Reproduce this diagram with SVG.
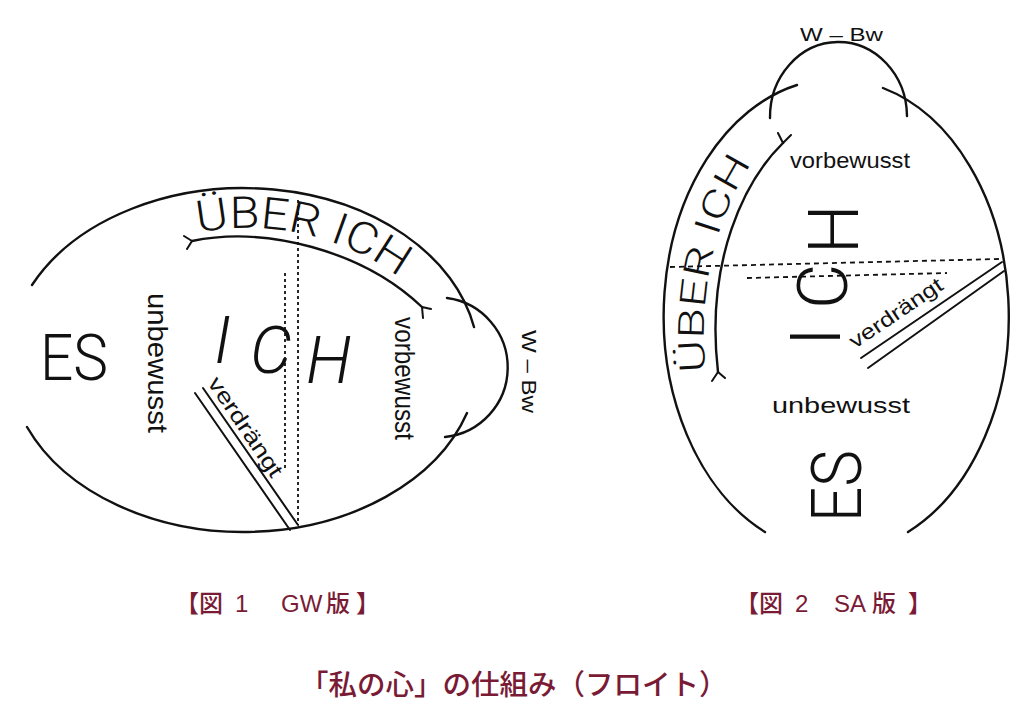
<svg xmlns="http://www.w3.org/2000/svg" width="1029" height="718" viewBox="0 0 1029 718">
<style>
.ln{fill:none;stroke:#111;stroke-width:2.4;stroke-linecap:round}
.thin{fill:none;stroke:#111;stroke-width:2;stroke-linecap:round}
.dot{fill:none;stroke:#111;stroke-width:1.8;stroke-dasharray:3 3}
.dash{fill:none;stroke:#111;stroke-width:1.8;stroke-dasharray:5 4}
.big{font-family:Roboto,"Liberation Sans",sans-serif;font-weight:300;fill:#111}
.sm{font-family:"Liberation Sans",Arial,sans-serif;fill:#111}
.cap{font-family:"Liberation Sans","Noto Sans CJK JP",sans-serif;font-weight:500;fill:#7a1b36}
</style>
<defs>
<path id="p1" d="M198,233 C270,217 355,238 412,288"/>
<path id="p2" d="M706,372 C694,262 735,175 772,138"/>
</defs>
<rect width="1029" height="718" fill="#fff"/>

<g id="fig1">
  <g id="fig1-outline">
    <path class="ln" d="M32,285 A235,172 0 0 1 474,327"/>
    <path class="ln" d="M467,413 A235,172 0 0 1 27,427"/>
  </g>
  <g id="fig1-wbw-bulb">
    <path class="ln" d="M447,298 A70,70 0 0 1 445,437"/>
  </g>
  <g id="fig1-ueberich">
    <path class="ln" d="M192,241 C265,226 362,250 422,307"/>
    <path class="thin" d="M192,241 L184,236 M192,241 L187,249 M422,307 L431,309 M422,307 L423,318"/>
    <text class="big" font-size="44"><textPath href="#p1" textLength="212" lengthAdjust="spacingAndGlyphs">ÜBER ICH</textPath></text>
  </g>
  <g id="fig1-lines">
    <path class="dot" d="M298,200 V525"/>
    <path class="dot" d="M285,273 V470"/>
    <path class="thin" d="M195,393 L290,530 M203,388 L298,525"/>
  </g>
  <g id="fig1-es"><text class="big" x="40" y="380" font-size="64" textLength="68" lengthAdjust="spacingAndGlyphs">ES</text></g>
  <g id="fig1-unbewusst"><text class="sm" transform="translate(148,293) rotate(90)" font-size="28" textLength="140" lengthAdjust="spacingAndGlyphs">unbewusst</text></g>
  <g id="fig1-ich"><text class="big" font-size="66" font-style="italic" x="214 250 306" y="363 373 383">ICH</text></g>
  <g id="fig1-verdraengt"><text class="sm" transform="translate(207,383) rotate(56)" font-size="22" textLength="116" lengthAdjust="spacingAndGlyphs">verdrängt</text></g>
  <g id="fig1-vorbewusst"><text class="sm" transform="translate(395,317) rotate(90)" font-size="28" textLength="123" lengthAdjust="spacingAndGlyphs">vorbewusst</text></g>
  <g id="fig1-wbw"><text class="sm" transform="translate(522,330) rotate(90)" font-size="20" textLength="83" lengthAdjust="spacingAndGlyphs">W – Bw</text></g>
</g>

<g id="fig2">
  <g id="fig2-outline">
    <path class="ln" d="M797,85 A172,237 0 0 0 765,532"/>
    <path class="ln" d="M883,88 A172,237 0 0 1 908,532"/>
  </g>
  <g id="fig2-wbw-bulb">
    <path class="ln" d="M770,118 A68.5,75 0 0 1 907,116"/>
  </g>
  <g id="fig2-ueberich">
    <path class="ln" d="M783,143 C745,180 705,260 718,372"/>
    <path class="thin" d="M783,143 L778,133 M783,143 L791,135 M718,372 L712,381 M718,372 L725,378"/>
    <text class="big" font-size="36"><textPath href="#p2" textLength="218" lengthAdjust="spacingAndGlyphs">ÜBER ICH</textPath></text>
  </g>
  <g id="fig2-lines">
    <path class="dash" d="M670,267 L999,259"/>
    <path class="dash" d="M747,278 L947,273"/>
    <path class="thin" d="M861,358 L1002,262 M868,368 L1004,271"/>
  </g>
  <g id="fig2-wbw"><text class="sm" x="800" y="41" font-size="18" textLength="83" lengthAdjust="spacingAndGlyphs">W – Bw</text></g>
  <g id="fig2-vorbewusst"><text class="sm" x="790" y="168" font-size="22" textLength="120" lengthAdjust="spacingAndGlyphs">vorbewusst</text></g>
  <g id="fig2-ich"><text class="big" transform="translate(858,342) rotate(-90)" font-size="70" x="-4 33 88" y="-18 -11 0">ICH</text></g>
  <g id="fig2-verdraengt"><text class="sm" transform="translate(855,349) rotate(-34)" font-size="21" textLength="108" lengthAdjust="spacingAndGlyphs">verdrängt</text></g>
  <g id="fig2-unbewusst"><text class="sm" x="772" y="413" font-size="22" textLength="138" lengthAdjust="spacingAndGlyphs">unbewusst</text></g>
  <g id="fig2-es"><text class="big" transform="translate(861,522) rotate(-90)" font-size="70" textLength="72" lengthAdjust="spacingAndGlyphs">ES</text></g>
</g>

<g id="captions">
  <text class="cap" y="612" font-size="24"><tspan x="175">【図</tspan><tspan x="235">1</tspan><tspan x="281">GW</tspan><tspan x="326">版</tspan><tspan x="356">】</tspan></text>
  <text class="cap" y="612" font-size="24"><tspan x="735">【図</tspan><tspan x="795">2</tspan><tspan x="834">SA</tspan><tspan x="872">版</tspan><tspan x="908">】</tspan></text>
  <text class="cap" x="300" y="695" font-size="28.5">「私の心」の仕組み（フロイト）</text>
</g>
</svg>
